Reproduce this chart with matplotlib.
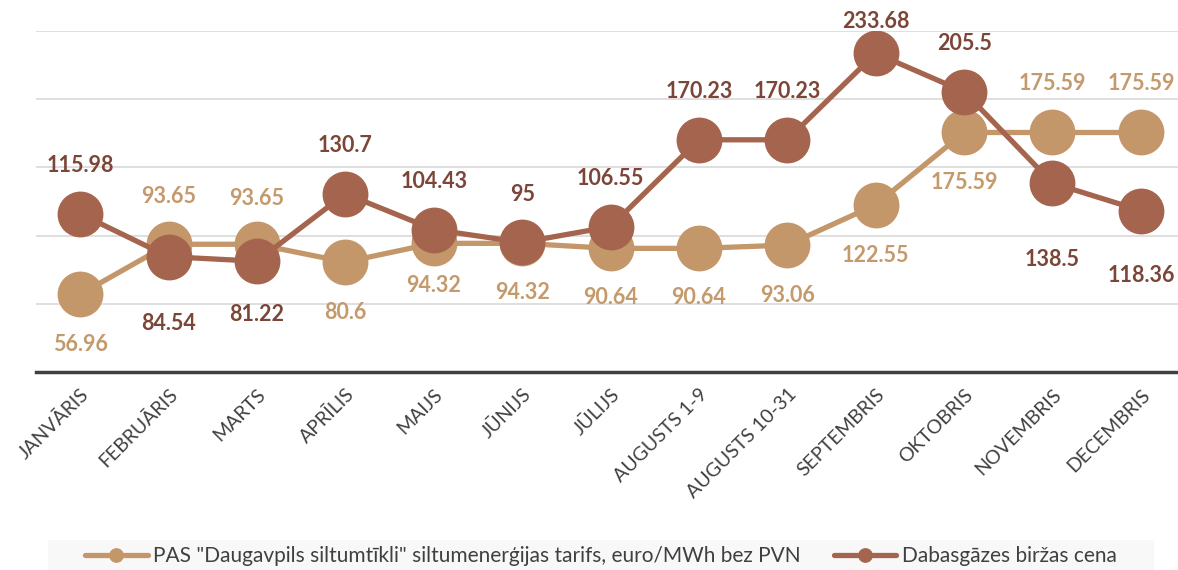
import matplotlib.pyplot as plt
from matplotlib.patches import Rectangle

months = ["JANVĀRIS", "FEBRUĀRIS", "MARTS", "APRĪLIS", "MAIJS", "JŪNIJS", "JŪLIJS",
          "AUGUSTS 1-9", "AUGUSTS 10-31", "SEPTEMBRIS", "OKTOBRIS", "NOVEMBRIS",
          "DECEMBRIS"]
tariff = [56.96, 93.65, 93.65, 80.6, 94.32, 94.32, 90.64, 90.64, 93.06, 122.55,
          175.59, 175.59, 175.59]
gas = [115.98, 84.54, 81.22, 130.7, 104.43, 95, 106.55, 170.23, 170.23, 233.68,
       205.5, 138.5, 118.36]
tariff_name = 'PAS "Daugavpils siltumtīkli" siltumenerģijas tarifs, euro/MWh bez PVN'
gas_name = "Dabasgāzes biržas cena"

# label offsets in pixels (positive = above the point)
tariff_off = [-50, 48, 46, -50, -42, -49, -49, -49, -50, -51, -50, 49, 49]
gas_off = [48, -67, -53, 48, 48, 48, 48, 48, 48, 32, 48, -76, -65]

TARIFF_C = "#C4976A"
TARIFF_TXT = "#C49A6C"
GAS_C = "#A5644E"
GAS_TXT = "#7B4537"

plt.rcParams["font.family"] = ["Lato", "DejaVu Sans"]

fig = plt.figure(figsize=(11.78, 5.70), dpi=100)
ax = fig.add_axes([36 / 1178, 1 - 372 / 570, 1 - 36 / 1178, (372 - 31) / 570])

x = list(range(len(months)))
ax.plot(x, tariff, color=TARIFF_C, lw=3.8, marker="o", ms=32, zorder=3,
        label=tariff_name, solid_capstyle="round")
ax.plot(x, gas, color=GAS_C, lw=3.8, marker="o", ms=32, zorder=4,
        label=gas_name, solid_capstyle="round")

for i in x:
    ax.annotate(f"{tariff[i]:g}", (i, tariff[i]), xytext=(0, tariff_off[i] * 0.72),
                textcoords="offset points", ha="center", va="center",
                fontsize=15.5, fontweight="bold", color=TARIFF_TXT, zorder=6,
                annotation_clip=False)
    ax.annotate(f"{gas[i]:g}", (i, gas[i]), xytext=(0, gas_off[i] * 0.72),
                textcoords="offset points", ha="center", va="center",
                fontsize=15.5, fontweight="bold", color=GAS_TXT, zorder=6,
                annotation_clip=False)

ax.set_xlim(-0.5, 12.42)
ax.set_ylim(0, 250)
ax.set_yticks([50, 100, 150, 200, 250])
ax.yaxis.grid(True, color="#d9d9d9", lw=1.2)
ax.set_axisbelow(True)
ax.tick_params(axis="y", left=False, labelleft=False)
ax.tick_params(axis="x", length=0, pad=10)
ax.set_xticks(x)
ax.set_xticklabels(months, rotation=45, ha="right", rotation_mode="anchor",
                   fontsize=14, color="#404040")
for s in ["top", "right", "left"]:
    ax.spines[s].set_visible(False)
ax.spines["bottom"].set_color("#404040")
ax.spines["bottom"].set_linewidth(2.5)

# legend background strip
fig.patches.append(Rectangle((48 / 1178, 0), (1154 - 48) / 1178, 30 / 570,
                             transform=fig.transFigure, facecolor="#f8f8f8",
                             edgecolor="none", zorder=0))
handles, labels = ax.get_legend_handles_labels()
leg = fig.legend(handles, labels, loc="center", bbox_to_anchor=(0.51, 14 / 570),
                 ncol=2, frameon=False, fontsize=15, handlelength=3.0,
                 columnspacing=1.6, handletextpad=0.25, markerscale=0.3)
for t in leg.get_texts():
    t.set_color("#404040")

fig.savefig("out.png", dpi=100)
